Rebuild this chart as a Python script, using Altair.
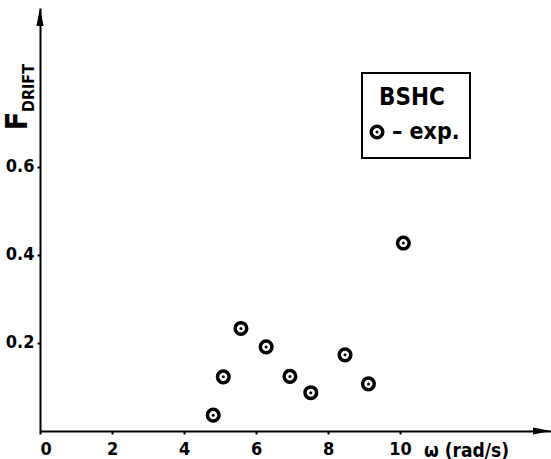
import altair as alt
import pandas as pd

# Measured drift force against wave frequency (BSHC, experiment)
omega = [4.81, 5.09, 5.58, 6.28, 6.94, 7.52, 8.47, 9.12, 10.09]
f_drift = [0.036, 0.123, 0.233, 0.191, 0.124, 0.087, 0.173, 0.107, 0.427]

x_ticks = [0, 2, 4, 6, 8, 10]
y_ticks = [0.2, 0.4, 0.6]
x_max = 14.19
y_max = 0.961

series_name = "BSHC"
legend_label = "– exp."

FONT = "DejaVu Sans Condensed, DejaVu Sans"
W, H = 511, 423

df = pd.DataFrame({"omega": omega, "f": f_drift})

x_enc = alt.X(
    "omega:Q",
    scale=alt.Scale(domain=[0, x_max], nice=False, zero=False),
    axis=alt.Axis(
        values=x_ticks, format="d", grid=False,
        title="ω (rad/s)", titleX=426, titleY=19, titleAlign="center",
        titleBaseline="middle", titleFont=FONT, titleFontSize=19,
        titleFontWeight="bold", titleColor="black",
        labelFont=FONT, labelFontSize=18, labelFontWeight="bold",
        labelColor="black", labelPadding=6,
        tickSize=3, tickWidth=2, tickColor="black",
        domainWidth=2, domainColor="black",
    ),
)
y_enc = alt.Y(
    "f:Q",
    scale=alt.Scale(domain=[0, y_max], nice=False, zero=False),
    axis=alt.Axis(
        values=y_ticks, format=".1f", grid=False, title=None,
        labelFont=FONT, labelFontSize=18, labelFontWeight="bold",
        labelColor="black", labelPadding=3,
        tickSize=3, tickWidth=2, tickColor="black",
        domainWidth=2, domainColor="black",
    ),
)

base = alt.Chart(df).encode(x=x_enc, y=y_enc)
rings = base.mark_point(shape="circle", size=135, strokeWidth=3.5,
                        color="black", filled=False, opacity=1)
dots = base.mark_point(shape="circle", size=9, filled=True,
                       color="black", opacity=1)

one = pd.DataFrame({"k": [0]})

# axis arrowheads
arrow_up = alt.Chart(one).mark_point(
    shape="M0,-1L0.4,1L-0.4,1Z", size=324, filled=True, color="black", opacity=1
).encode(x=alt.value(0), y=alt.value(9))
arrow_right = alt.Chart(one).mark_point(
    shape="M1,0L-1,0.4L-1,-0.4Z", size=324, filled=True, color="black", opacity=1
).encode(x=alt.value(W - 9), y=alt.value(H))

# y-axis title with subscript
f_main = alt.Chart(one).mark_text(
    text="F", font=FONT, fontSize=30, fontWeight="bold", angle=270,
    align="center", baseline="middle", color="black"
).encode(x=alt.value(-22), y=alt.value(113))
f_sub = alt.Chart(one).mark_text(
    text="DRIFT", font=FONT, fontSize=16, fontWeight="bold", angle=270,
    align="center", baseline="middle", color="black"
).encode(x=alt.value(-11), y=alt.value(80))

# legend box
box = alt.Chart(one).mark_rect(
    fillOpacity=0, stroke="black", strokeWidth=2
).encode(x=alt.value(322), x2=alt.value(430), y=alt.value(65), y2=alt.value(150))
box_title = alt.Chart(one).mark_text(
    text=series_name, font=FONT, fontSize=24, fontWeight="bold",
    align="center", baseline="middle", color="black"
).encode(x=alt.value(372), y=alt.value(90))
leg_ring = alt.Chart(one).mark_point(
    shape="circle", size=135, strokeWidth=3.5, color="black", filled=False, opacity=1
).encode(x=alt.value(337), y=alt.value(124))
leg_dot = alt.Chart(one).mark_point(
    shape="circle", size=9, filled=True, color="black", opacity=1
).encode(x=alt.value(337), y=alt.value(124))
leg_text = alt.Chart(one).mark_text(
    text=legend_label, font=FONT, fontSize=23, fontWeight="bold",
    align="left", baseline="middle", color="black"
).encode(x=alt.value(352), y=alt.value(124))

chart = alt.layer(
    rings, dots, arrow_up, arrow_right, f_main, f_sub,
    box, box_title, leg_ring, leg_dot, leg_text,
).properties(
    width=W, height=H,
    padding={"left": 40, "top": 8, "right": 0, "bottom": 28},
    autosize="none",
    background="white",
).configure_view(stroke=None)

chart.save("out.html", embed_options={"renderer": "svg", "actions": False})
